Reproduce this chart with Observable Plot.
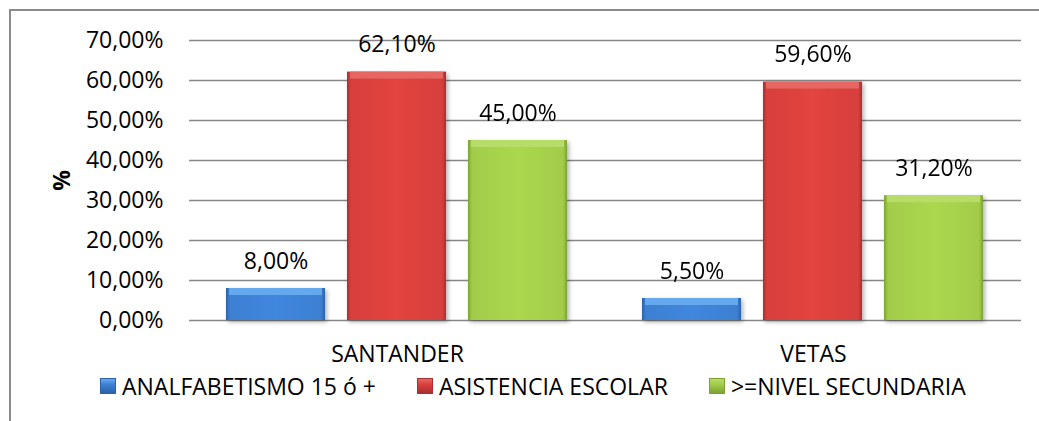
<!DOCTYPE html>
<html>
<head>
<meta charset="utf-8">
<script src="https://cdn.jsdelivr.net/npm/d3@7"></script>
<script src="https://cdn.jsdelivr.net/npm/@observablehq/plot@0.6"></script>
<style>
  html, body { margin: 0; padding: 0; background: #fff; overflow: hidden; }
  body { width: 1039px; height: 421px; position: relative; font-family: "Open Sans", sans-serif; }
  #frame { position: absolute; left: 9px; top: 9px; width: 1100px; height: 500px; border: 2px solid #8a8a8a; box-sizing: border-box; z-index: 5; pointer-events: none; }
  #chart { position: absolute; left: 0; top: 0; }
  #legend { position: absolute; left: 0; top: 372px; width: 1039px; height: 28px; display: flex; align-items: center; padding-left: 100px; box-sizing: border-box; font-size: 23px; color: #000; }
  .item { display: flex; align-items: center; margin-right: 41px; white-space: nowrap; }
  .sw { width: 16px; height: 16px; margin-right: 6px; box-sizing: border-box; }
</style>
</head>
<body>
<div id="frame"></div>
<div id="chart"></div>
<div id="legend"></div>
<script>
const categories = ["SANTANDER", "VETAS"];
const series = ["ANALFABETISMO 15 ó +", "ASISTENCIA ESCOLAR", ">=NIVEL SECUNDARIA"];
const santanderValues = [8.0, 62.1, 45.0];
const vetasValues = [5.5, 59.6, 31.2];
const yTicks = [0, 10, 20, 30, 40, 50, 60, 70];

const mainColors = ["#3d80d2", "#d7403c", "#a2cc4a"];
const edgeColors = ["#2b62aa", "#a83030", "#7ea232"];
const topColors = ["#66a8ee", "#e66662", "#b8dc6a"];

const fmt = v => v.toFixed(2).replace(".", ",") + "%";

const valuesByCat = [santanderValues, vetasValues];
const data = categories.flatMap((c, i) => series.map((s, j) => ({cat: c, series: s, idx: j, value: valuesByCat[i][j]})));

const marks = [
  Plot.gridY(yTicks, {stroke: "#878787", strokeOpacity: 1, strokeWidth: 1.6}),
  Plot.axisY(yTicks, {tickSize: 0, tickPadding: 26, tickFormat: fmt, label: "%", labelAnchor: "center", labelOffset: 136, labelArrow: "none"}),
  Plot.axisFx({anchor: "bottom", tickSize: 0, tickPadding: 25, label: null})
];
series.forEach((s, j) => {
  const d = data.filter(r => r.series === s);
  marks.push(Plot.barY(d, {fx: "cat", x: "series", y: "value", fill: `url(#grad${j})`}));
  marks.push(Plot.barY(d, {fx: "cat", x: "series", y1: "value", y2: "value", insetBottom: -7, insetLeft: 3, insetRight: 3, fill: topColors[j]}));
});
marks.push(Plot.text(data, {fx: "cat", x: "series", y: "value", text: d => fmt(d.value), dy: -27, lineAnchor: "middle", fill: "#000"}));

const chart = Plot.plot({
  width: 1039,
  height: 372,
  marginLeft: 188,
  marginRight: 18,
  marginTop: 40,
  marginBottom: 52,
  fx: {domain: categories, padding: 0, label: null},
  x: {domain: series, paddingInner: 0.18, paddingOuter: 0.297, axis: null},
  y: {domain: [0, 70], axis: null},
  style: {fontFamily: "Open Sans", fontSize: "23px", color: "#000", background: "transparent", overflow: "visible"},
  marks
});

const svg = d3.select(chart);
const defs = svg.insert("defs", ":first-child");
mainColors.forEach((c, j) => {
  const g = defs.append("linearGradient").attr("id", `grad${j}`).attr("x1", 0).attr("x2", 1).attr("y1", 0).attr("y2", 0);
  g.append("stop").attr("offset", "0").attr("stop-color", edgeColors[j]);
  g.append("stop").attr("offset", "0.04").attr("stop-color", c);
  g.append("stop").attr("offset", "0.5").attr("stop-color", d3.color(c).brighter(0.15).formatHex());
  g.append("stop").attr("offset", "0.96").attr("stop-color", c);
  g.append("stop").attr("offset", "1").attr("stop-color", edgeColors[j]);
});
const f = defs.append("filter").attr("id", "shadow").attr("x", "-20%").attr("y", "-20%").attr("width", "140%").attr("height", "140%");
f.append("feDropShadow").attr("dx", 2).attr("dy", 2).attr("stdDeviation", 2).attr("flood-color", "#000").attr("flood-opacity", 0.3);
svg.selectAll('g[aria-label="bar"]').each(function(_, i) { if (i % 2 === 0) this.setAttribute("filter", "url(#shadow)"); });
const lab = chart.querySelector('g[aria-label="y-axis label"] text');
if (lab) { lab.textContent = "%"; lab.setAttribute("font-weight", "bold"); }

document.getElementById("chart").appendChild(chart);

const legend = document.getElementById("legend");
series.forEach((s, j) => {
  const it = document.createElement("div");
  it.className = "item";
  const sw = document.createElement("div");
  sw.className = "sw";
  sw.style.background = `linear-gradient(to bottom, ${topColors[j]} 0%, ${mainColors[j]} 40%, ${edgeColors[j]} 100%)`;
  sw.style.border = `1px solid ${edgeColors[j]}`;
  const t = document.createElement("span");
  t.textContent = s;
  it.appendChild(sw);
  it.appendChild(t);
  legend.appendChild(it);
});
</script>
</body>
</html>
